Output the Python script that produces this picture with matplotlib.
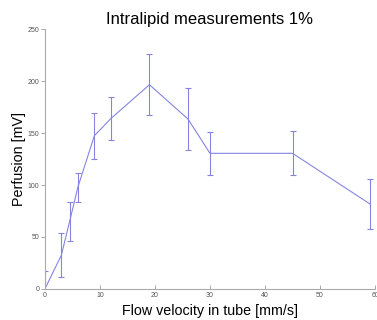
import numpy as np
import matplotlib.pyplot as plt

plt.rcParams["font.family"] = ["Liberation Sans", "DejaVu Sans"]

# flow velocity [mm/s], perfusion [mV], error
velocity = [0, 3, 4.5, 6, 9, 12, 19, 26, 30, 45, 59]
perfusion = [0, 32.5, 65, 98, 147.5, 164, 196.5, 163.5, 130.5, 130.5, 82]
error = [17, 21, 19, 14, 22, 21, 29.5, 29.5, 20.5, 21, 24]

xticks = [0, 10, 20, 30, 40, 50, 60]
yticks = [0, 50, 100, 150, 200, 250]

fig = plt.figure(figsize=(3.77, 3.2), dpi=100)
ax = fig.add_axes([0.119, 0.097, 0.876, 0.812])

ax.errorbar(velocity, perfusion, yerr=error, color="#8585e0", lw=0.8,
            elinewidth=0.8, capsize=2.5, capthick=0.8)

ax.set_xlim(0, 60)
ax.set_ylim(0, 250)
ax.set_xticks(xticks)
ax.set_yticks(yticks)

for s in ["top", "right"]:
    ax.spines[s].set_visible(False)
for s in ["left", "bottom"]:
    ax.spines[s].set_color("#aaaaaa")
    ax.spines[s].set_linewidth(0.8)

ax.tick_params(axis="x", direction="in", length=3, width=0.6, colors="#999999",
               labelsize=5, labelcolor="#555555", pad=2)
ax.tick_params(axis="y", direction="out", length=3, width=0.6, colors="#999999",
               labelsize=5, labelcolor="#555555", pad=1)

ax.set_title("Intralipid measurements 1%", fontsize=12, pad=4)
ax.set_xlabel("Flow velocity in tube [mm/s]", fontsize=10.3, labelpad=4)
ax.set_ylabel("Perfusion [mV]", fontsize=10.3, labelpad=1)

fig.savefig("out.png", dpi=100)
